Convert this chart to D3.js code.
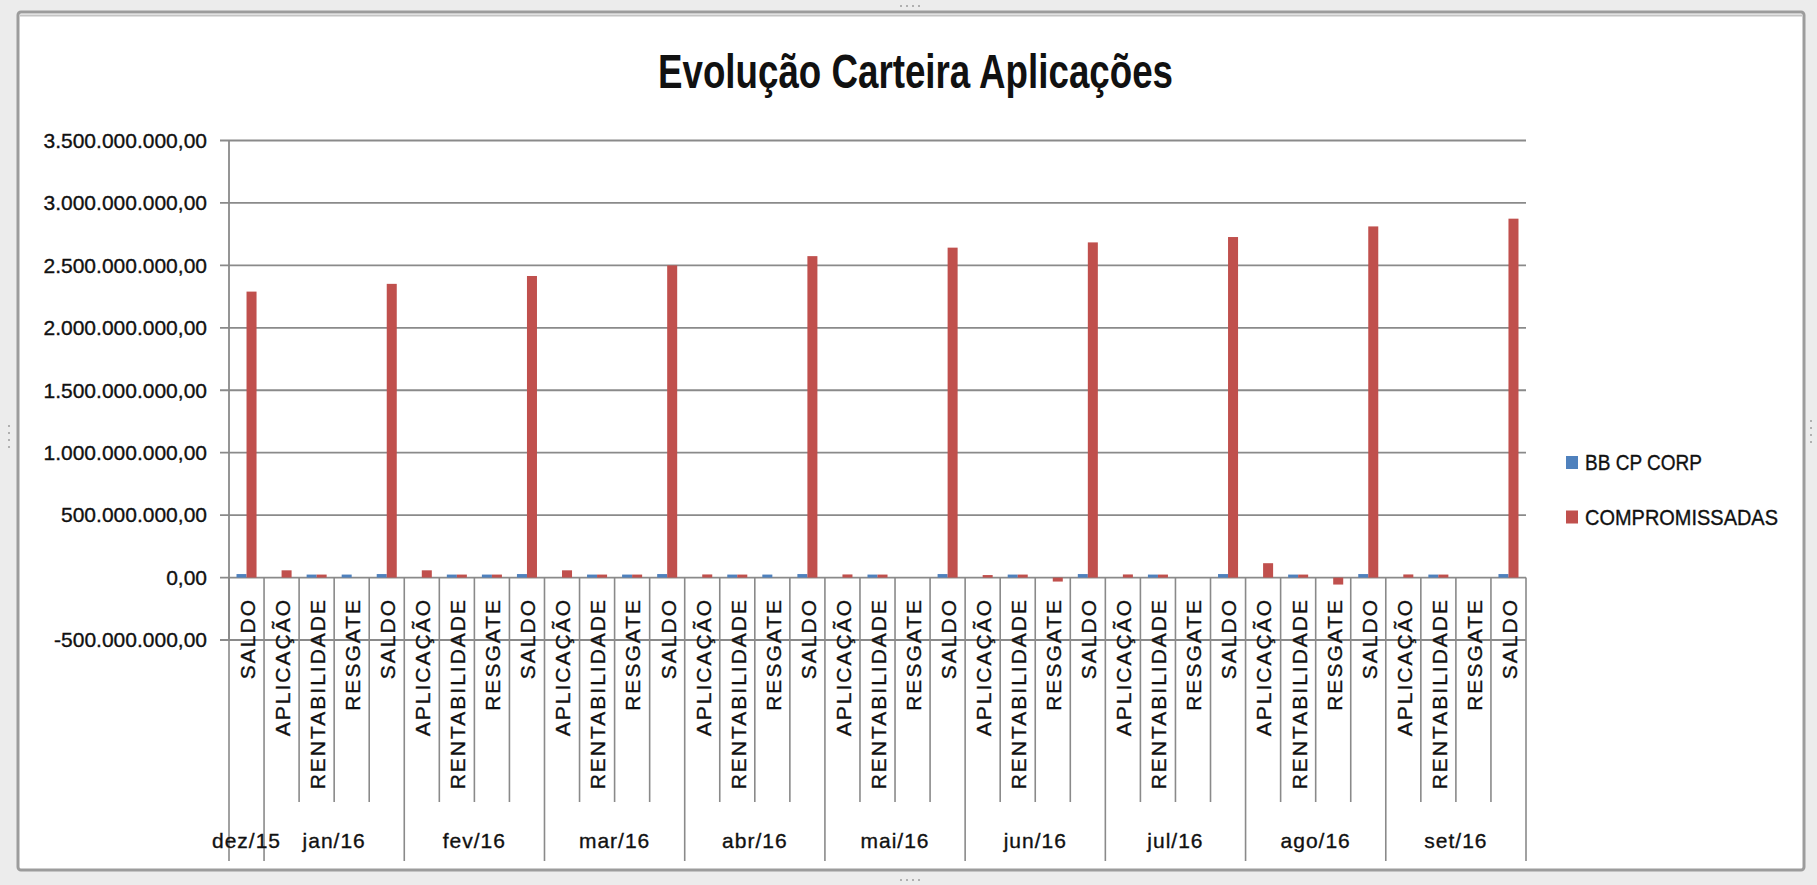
<!DOCTYPE html>
<html>
<head>
<meta charset="utf-8">
<script src="https://cdn.jsdelivr.net/npm/d3@7"></script>
<style>
	body { margin: 0; background: #ececec; }
	#chart { width: 1817px; height: 885px; }
	text { font-family: "Liberation Sans", Arial, sans-serif; fill: #111; }
	.title { font-weight: bold; font-size: 48px; }
	.tickLabel, .catLabel, .monthLabel, .legendText { stroke: #111; stroke-width: 0.35px; }
	.tickLabel { font-size: 21px; }
	.catLabel { font-size: 21px; letter-spacing: 2px; }
	.monthLabel { font-size: 21px; letter-spacing: 1px; }
	.legendText { font-size: 22px; }
</style>
</head>
<body>
<div id="chart"></div>
<script>
var chartTitle = "Evolução Carteira Aplicações";
var months = ["dez/15","jan/16","fev/16","mar/16","abr/16","mai/16","jun/16","jul/16","ago/16","set/16"];
var items = ["APLICAÇÃO","RENTABILIDADE","RESGATE","SALDO"];
var firstMonthItems = ["SALDO"];

var seriesNames = ["BB CP CORP","COMPROMISSADAS"];
var seriesColors = ["#4F81BD","#C0504D"];

// one value per category: dez/15 SALDO, then APL, RENT, RESG, SALDO for each month
var bbCpCorp = [
	28e6,
	0, 24e6, 24e6, 28e6,
	0, 24e6, 24e6, 28e6,
	0, 24e6, 24e6, 28e6,
	0, 24e6, 24e6, 28e6,
	0, 24e6, 0, 28e6,
	0, 24e6, 0, 28e6,
	0, 24e6, 0, 28e6,
	0, 24e6, 0, 28e6,
	0, 24e6, 0, 28e6
];
var compromissadas = [
	2290e6,
	58e6, 24e6, 0, 2352e6,
	58e6, 24e6, 24e6, 2415e6,
	58e6, 24e6, 24e6, 2500e6,
	25e6, 24e6, 0, 2574e6,
	25e6, 24e6, 0, 2642e6,
	20e6, 24e6, -32e6, 2684e6,
	25e6, 24e6, 0, 2727e6,
	115e6, 24e6, -56e6, 2812e6,
	25e6, 24e6, 0, 2874e6
];
var yTicks = [-500e6, 0, 500e6, 1000e6, 1500e6, 2000e6, 2500e6, 3000e6, 3500e6];

chartDraw();

function chartDraw() {
	var width = 1817, height = 885;
	var plot = {left: 229, right: 1526, top: 140.5, bottom: 640};
	var gridColor = "#8a8a8a";

	var categories = [];
	months.forEach(function(m, i) {
		(i == 0 ? firstMonthItems : items).forEach(function(it) {
			categories.push({month: m, item: it});
		});
	});
	var series = [bbCpCorp, compromissadas];

	var locale = d3.formatLocale({decimal: ",", thousands: ".", grouping: [3], currency: ["R$", ""], minus: "-"});
	var fmt = locale.format(",.2f");

	var x0 = d3.scaleBand()
		.domain(d3.range(categories.length))
		.range([plot.left, plot.right])
		.paddingInner(0.4286)
		.paddingOuter(0.2143);
	var x1 = d3.scaleBand()
		.domain(d3.range(series.length))
		.range([0, x0.bandwidth()]);
	var y = d3.scaleLinear()
		.domain([yTicks[0], yTicks[yTicks.length - 1]])
		.range([plot.bottom, plot.top]);

	var svg = d3.select("#chart").append("svg")
		.attr("width", width)
		.attr("height", height);

	// window frame
	svg.append("rect").attr("width", width).attr("height", height).attr("fill", "#ececec");
	svg.append("rect")
		.attr("x", 18).attr("y", 12).attr("width", 1786).attr("height", 858)
		.attr("rx", 3)
		.attr("fill", "#fff")
		.attr("stroke", "#9c9c9c")
		.attr("stroke-width", 3);
	svg.append("line")
		.attr("x1", 20).attr("x2", 1802).attr("y1", 15.5).attr("y2", 15.5)
		.attr("stroke", "#c4c4c4").attr("stroke-width", 2);
	var grips = [[8, 425], [8, 432], [8, 439], [8, 446], [1810, 420], [1810, 427], [1810, 434], [1810, 441],
		[900, 5], [906, 5], [912, 5], [918, 5], [900, 879], [906, 879], [912, 879], [918, 879]];
	svg.selectAll(".grip").data(grips).enter().append("rect")
		.attr("class", "grip")
		.attr("x", function(d) { return d[0]; })
		.attr("y", function(d) { return d[1]; })
		.attr("width", 2).attr("height", 2)
		.attr("fill", "#b0b0b0");

	svg.append("text")
		.attr("class", "title")
		.attr("x", 915.5)
		.attr("y", 88)
		.attr("text-anchor", "middle")
		.attr("textLength", 515)
		.attr("lengthAdjust", "spacingAndGlyphs")
		.text(chartTitle);

	// gridlines + y labels
	svg.selectAll(".grid").data(yTicks).enter().append("line")
		.attr("class", "grid")
		.attr("x1", plot.left - 9)
		.attr("x2", plot.right)
		.attr("y1", function(d) { return y(d); })
		.attr("y2", function(d) { return y(d); })
		.attr("stroke", gridColor)
		.attr("stroke-width", 1.8);

	svg.selectAll(".tickLabel").data(yTicks).enter().append("text")
		.attr("class", "tickLabel")
		.attr("x", plot.left - 22)
		.attr("y", function(d) { return y(d); })
		.attr("dy", ".35em")
		.attr("text-anchor", "end")
		.text(function(d) { return fmt(d); });

	svg.append("line")
		.attr("x1", plot.left).attr("x2", plot.left)
		.attr("y1", y(yTicks[yTicks.length - 1])).attr("y2", y(yTicks[0]))
		.attr("stroke", gridColor).attr("stroke-width", 1.8);

	// bars
	series.forEach(function(vals, s) {
		svg.append("g").selectAll("rect")
			.data(vals.map(function(v, i) { return {v: v, i: i}; }).filter(function(d) { return d.v != 0; }))
			.enter().append("rect")
			.attr("x", function(d) { return x0(d.i) + x1(s); })
			.attr("width", x1.bandwidth())
			.attr("y", function(d) { return y(Math.max(d.v, 0)); })
			.attr("height", function(d) { return Math.abs(y(d.v) - y(0)); })
			.attr("fill", seriesColors[s]);
	});

	// category separators, longer at month boundaries
	var step = x0.step();
	var boundaries = d3.range(categories.length + 1);
	svg.selectAll(".sep").data(boundaries).enter().append("line")
		.attr("class", "sep")
		.attr("x1", function(i) { return plot.left + i * step; })
		.attr("x2", function(i) { return plot.left + i * step; })
		.attr("y1", y(0))
		.attr("y2", function(i) {
			var isGroup = i == 0 || i == categories.length || categories[i].month != categories[i - 1].month;
			return isGroup ? 861 : 802;
		})
		.attr("stroke", gridColor)
		.attr("stroke-width", 1.6);

	svg.selectAll(".catLabel").data(categories).enter().append("text")
		.attr("class", "catLabel")
		.attr("transform", function(d, i) {
			return "translate(" + (x0(i) + x0.bandwidth() / 2 + 1) + ",598) rotate(-90)";
		})
		.attr("dy", ".35em")
		.attr("text-anchor", "end")
		.text(function(d) { return d.item; });

	svg.selectAll(".monthLabel").data(months).enter().append("text")
		.attr("class", "monthLabel")
		.attr("x", function(m) {
			var idx = categories.map(function(c, i) { return c.month == m ? i : -1; }).filter(function(i) { return i >= 0; });
			return plot.left + (idx[0] + idx.length / 2) * step;
		})
		.attr("y", 848)
		.attr("text-anchor", "middle")
		.text(function(m) { return m; });

	// legend
	var legend = svg.selectAll(".legend").data(seriesNames).enter().append("g")
		.attr("class", "legend")
		.attr("transform", function(d, i) { return "translate(1566," + (456 + i * 54.5) + ")"; });
	legend.append("rect")
		.attr("width", 12).attr("height", 13)
		.attr("fill", function(d, i) { return seriesColors[i]; });
	legend.append("text")
		.attr("class", "legendText")
		.attr("x", 19)
		.attr("y", 14)
		.attr("textLength", function(d, i) { return i == 0 ? 117 : 193; })
		.attr("lengthAdjust", "spacingAndGlyphs")
		.text(function(d) { return d; });
}
</script>
</body>
</html>
